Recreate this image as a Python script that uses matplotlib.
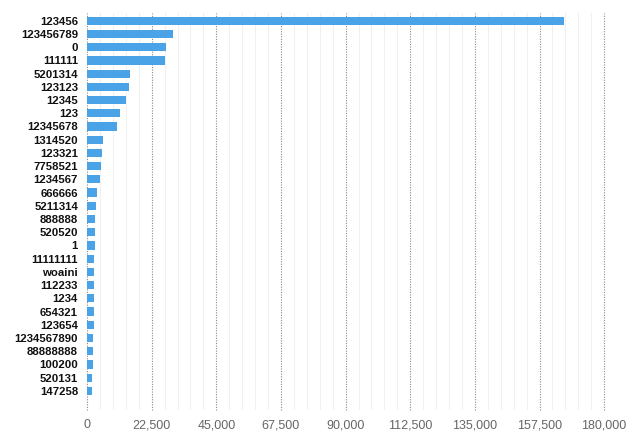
import matplotlib
matplotlib.use("Agg")
import matplotlib.pyplot as plt
from matplotlib.ticker import MultipleLocator, FuncFormatter

# passwords and counts, top to bottom
passwords = ["123456", "123456789", "0", "111111", "5201314", "123123", "12345",
             "123", "12345678", "1314520", "123321", "7758521", "1234567", "666666",
             "5211314", "888888", "520520", "1", "11111111", "woaini", "112233",
             "1234", "654321", "123654", "1234567890", "88888888", "100200",
             "520131", "147258"]
counts = [166000, 30000, 27400, 27300, 14900, 14650, 13500,
          11400, 10450, 5400, 5350, 4780, 4650, 3620,
          3030, 2920, 2700, 2680, 2580, 2550, 2450,
          2400, 2350, 2300, 2000, 2000, 1950,
          1900, 1850]

plt.rcParams['font.family'] = ['Liberation Sans', 'DejaVu Sans']

fig = plt.figure(figsize=(6.4, 4.42), dpi=100)
ax = fig.add_axes([0.136, 0.072, 0.808, 0.899])

ypos = list(range(len(passwords)))
ax.barh(ypos, counts, height=0.62, color="#4aa3e6", zorder=3)

ax.set_xlim(0, 180000)
ax.set_ylim(len(passwords) - 1 + 1.46, -0.6)

ax.xaxis.set_major_locator(MultipleLocator(22500))
ax.xaxis.set_minor_locator(MultipleLocator(4500))
ax.xaxis.set_major_formatter(FuncFormatter(lambda v, p: f"{int(v):,}"))

ax.grid(axis="x", which="major", color="#8a8a8a", linestyle=(0, (1, 1.3)), linewidth=0.8, zorder=1)
ax.grid(axis="x", which="minor", color="#f0f0f0", linestyle="-", linewidth=0.8, zorder=0)
ax.grid(axis="y", visible=False)
# keep the edge gridlines (0 and 180,000) fully visible
for gl in ax.get_xgridlines():
    gl.set_clip_on(False)

ax.set_yticks(ypos)
ax.set_yticklabels(passwords, fontsize=8.2, fontweight="bold", color="#111111")
ax.tick_params(axis="y", length=0, pad=6.5)
ax.tick_params(axis="x", which="both", length=0, pad=6.5, labelsize=9, labelcolor="#666666")

for s in ax.spines.values():
    s.set_visible(False)

fig.savefig("out.png", dpi=100)
